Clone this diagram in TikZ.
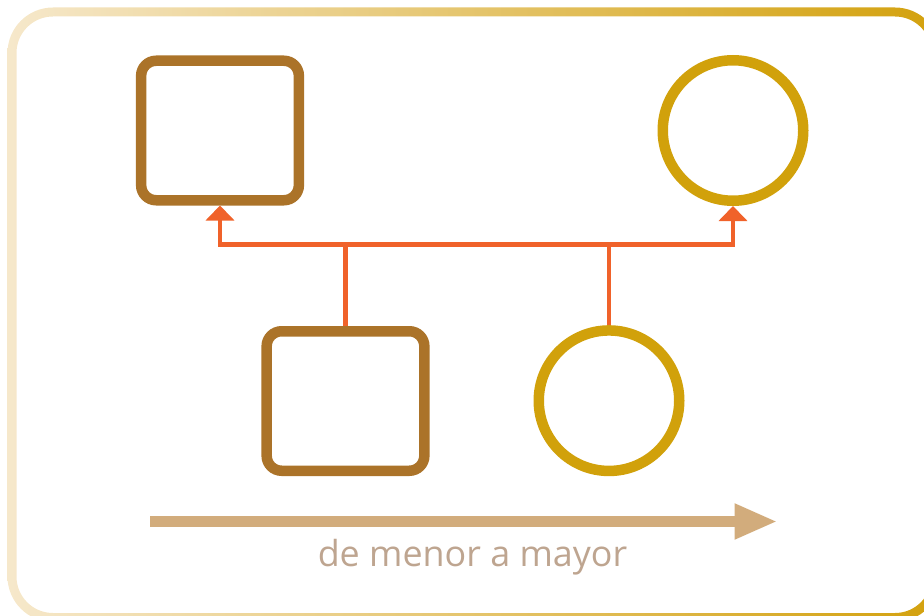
\documentclass[tikz,border=0pt]{standalone}
\usepackage{fontspec}
\setmainfont{Open Sans}
\usetikzlibrary{arrows.meta}
\definecolor{brownc}{HTML}{AB7329}
\definecolor{goldc}{HTML}{D1A10B}
\definecolor{orangec}{HTML}{F0622A}
\definecolor{tanc}{HTML}{D2AC7C}
\definecolor{textc}{HTML}{BEA590}
\definecolor{bordl}{HTML}{F6E8CB}
\definecolor{bordr}{HTML}{D3A10D}
\begin{document}
\begin{tikzpicture}[x=1bp,y=-1bp,
  sq/.style={draw=brownc,line width=10.5bp,rounded corners=15bp,minimum width=157.7bp,minimum height=139.5bp,inner sep=0pt},
  ci/.style={draw=goldc,line width=10.5bp,circle,minimum size=140.5bp,inner sep=0pt},
  conn/.style={draw=orangec,line width=4.5bp},
  twotips/.style={{Triangle[width=28bp,length=15bp]}-{Triangle[width=28bp,length=15bp]}},
  bigarrow/.style={draw=tanc,line width=10.7bp,-{Triangle[width=33bp,length=43bp]}},
  lbl/.style={text=textc,font=\fontsize{36}{40}\selectfont,anchor=base}
]
\useasboundingbox (0,0) rectangle (924,616);
\clip (0,0) rectangle (924,616);
\shade[left color=bordl,right color=bordr,even odd rule]
  [rounded corners=45.5bp] (7.5,7.5) rectangle (940.5,622)
  [rounded corners=36.5bp] (16.5,16.5) rectangle (931.5,613);
\node[sq] (tsq) at (220,130.5) {};
\node[ci] (tci) at (733,130.5) {};
\node[sq] (bsq) at (345.5,401) {};
\node[ci] (bci) at (609,400.7) {};
\coordinate (bar) at (0,244.5);
\draw[conn] (bsq.north) -- (bsq.north |- bar);
\draw[conn] (bci.north) -- (bci.north |- bar);
\draw[conn,twotips] (tsq.south) -- (tsq.south |- bar) -- (tci.south |- bar) -- (tci.south);
\coordinate (as) at (150,521.5);
\coordinate (ae) at (777.5,521.5);
\draw[bigarrow] (as) -- (ae);
\node[lbl] (txt) at (472.5,566) {de menor a mayor};
\end{tikzpicture}
\end{document}
